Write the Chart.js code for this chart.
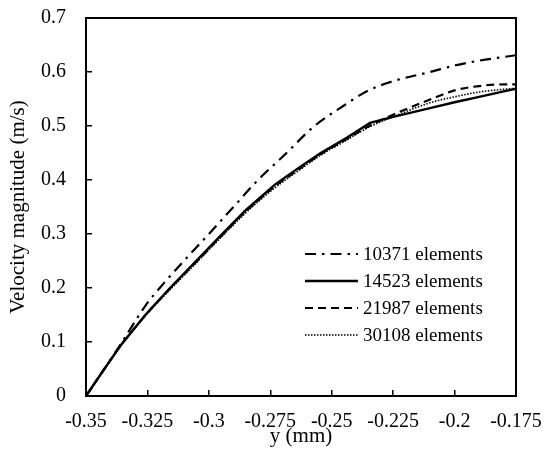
<!DOCTYPE html>
<html>
<head>
<meta charset="utf-8">
<script src="https://cdn.jsdelivr.net/npm/chart.js@4/dist/chart.umd.min.js"></script>
<style>
  html, body { margin: 0; padding: 0; background: #fff; }
  #wrap { width: 545px; height: 449px; position: relative; }
</style>
</head>
<body>
<div id="wrap"><canvas id="c" width="545" height="449"></canvas></div>
<script>
// ---- data ----
const seriesLabels = ["10371 elements", "14523 elements", "21987 elements", "30108 elements"];

const yMesh10371 = [-0.35, -0.343, -0.336, -0.3257, -0.32, -0.31, -0.30, -0.29, -0.28, -0.27, -0.257, -0.245, -0.235, -0.225, -0.21, -0.20, -0.19, -0.175];
const v10371     = [0, 0.047, 0.095, 0.168, 0.200, 0.251, 0.300, 0.350, 0.400, 0.443, 0.500, 0.538, 0.566, 0.583, 0.600, 0.612, 0.621, 0.631];

const yPositions = [-0.35, -0.343, -0.336, -0.3257, -0.316, -0.305, -0.295, -0.285, -0.273, -0.2636, -0.2548, -0.2439, -0.2344, -0.225, -0.21, -0.20, -0.19, -0.18, -0.175];
const v14523     = [0, 0.047, 0.093, 0.151, 0.199, 0.251, 0.298, 0.344, 0.392, 0.422, 0.449, 0.478, 0.506, 0.517, 0.533, 0.544, 0.554, 0.564, 0.569];
const v21987     = [0, 0.047, 0.093, 0.150, 0.198, 0.249, 0.296, 0.342, 0.389, 0.419, 0.447, 0.476, 0.501, 0.521, 0.549, 0.566, 0.574, 0.577, 0.577];
const v30108     = [0, 0.046, 0.092, 0.149, 0.196, 0.247, 0.294, 0.339, 0.386, 0.417, 0.445, 0.474, 0.499, 0.517, 0.543, 0.554, 0.563, 0.568, 0.570];

const xTicks = [-0.35, -0.325, -0.3, -0.275, -0.25, -0.225, -0.2, -0.175];
const yTicks = [0, 0.1, 0.2, 0.3, 0.4, 0.5, 0.6, 0.7];

// ---- build ----
function pts(xs, ys) { return xs.map((x, i) => ({ x: x, y: ys[i] })); }

const styles = [
  { borderWidth: 2.2, borderDash: [11, 6, 2.5, 6], smooth: true },
  { borderWidth: 2.4, borderDash: [], smooth: false },
  { borderWidth: 2.2, borderDash: [8, 5], smooth: true },
  { borderWidth: 1.6, borderDash: [1.5, 1.5], smooth: true }
];
const dataSets = [pts(yMesh10371, v10371), pts(yPositions, v14523), pts(yPositions, v21987), pts(yPositions, v30108)];

const datasets = seriesLabels.map((lab, i) => {
  const d = {
    label: lab,
    data: dataSets[i],
    borderColor: '#000',
    backgroundColor: '#000',
    borderWidth: styles[i].borderWidth,
    borderDash: styles[i].borderDash,
    pointRadius: 0,
    fill: false,
    tension: 0
  };
  if (styles[i].smooth) d.cubicInterpolationMode = 'monotone';
  return d;
});

const FONT = "'Liberation Serif', 'Times New Roman', serif";

const framePlugin = {
  id: 'frame',
  afterDraw(chart) {
    const ctx = chart.ctx, a = chart.chartArea;
    ctx.save();
    ctx.strokeStyle = '#000';
    ctx.lineWidth = 2;
    ctx.setLineDash([]);
    ctx.strokeRect(a.left, a.top, a.right - a.left, a.bottom - a.top);
    // legend inside plot
    const lx0 = 305, lx1 = 358, ty0 = 254, dy = 27;
    ctx.font = "19px " + FONT;
    ctx.textBaseline = 'middle';
    ctx.textAlign = 'left';
    ctx.fillStyle = '#000';
    chart.data.datasets.forEach((ds, i) => {
      const y = ty0 + i * dy;
      ctx.beginPath();
      ctx.lineWidth = ds.borderWidth;
      ctx.setLineDash(ds.borderDash || []);
      ctx.moveTo(lx0, y);
      ctx.lineTo(lx1, y);
      ctx.stroke();
      ctx.setLineDash([]);
      ctx.fillText(ds.label, lx1 + 5, y + 1);
    });
    ctx.restore();
  }
};

new Chart(document.getElementById('c'), {
  type: 'line',
  data: { datasets: datasets },
  options: {
    responsive: false,
    animation: false,
    devicePixelRatio: 1,
    layout: { padding: { left: 6, right: 29, top: 18, bottom: 0 } },
    plugins: { legend: { display: false }, tooltip: { enabled: false } },
    scales: {
      x: {
        type: 'linear',
        min: -0.35, max: -0.175,
        afterBuildTicks(scale) { scale.ticks = xTicks.map(v => ({ value: v })); },
        afterFit(scale) { scale.height = 53; scale.paddingLeft = 0; scale.paddingRight = 0; },
        grid: { drawOnChartArea: false, drawTicks: true, tickLength: -6, color: '#000', lineWidth: 1.5 },
        border: { display: false },
        ticks: {
          padding: 20, color: '#000', font: { family: FONT, size: 20 },
          maxRotation: 0, autoSkip: false,
          callback: v => String(Math.round(v * 1000) / 1000)
        },
        title: { display: true, text: 'y (mm)', color: '#000', font: { family: FONT, size: 21 }, padding: { top: -4, bottom: 0 } }
      },
      y: {
        type: 'linear',
        min: 0, max: 0.7,
        afterBuildTicks(scale) { scale.ticks = yTicks.map(v => ({ value: v })); },
        afterFit(scale) { scale.width = 80; scale.paddingTop = 0; scale.paddingBottom = 0; },
        grid: { drawOnChartArea: false, drawTicks: true, tickLength: -6, color: '#000', lineWidth: 1.5 },
        border: { display: false },
        ticks: {
          padding: 26, color: '#000', font: { family: FONT, size: 20 },
          callback: v => String(Math.round(v * 10) / 10)
        },
        title: { display: true, text: 'Velocity magnitude (m/s)', color: '#000', font: { family: FONT, size: 21 }, padding: { top: 0, bottom: 0 } }
      }
    }
  },
  plugins: [framePlugin]
});
</script>
</body>
</html>
